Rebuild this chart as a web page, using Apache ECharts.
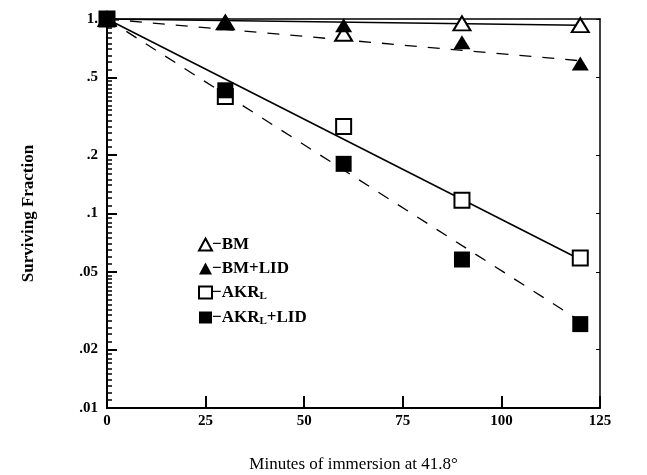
<!DOCTYPE html>
<html>
<head>
<meta charset="utf-8">
<script src="https://cdn.jsdelivr.net/npm/echarts@6.0.0/dist/echarts.min.js"></script>
<style>
  html, body { margin: 0; padding: 0; background: #fff; }
  #chart { width: 647px; height: 475px; }
</style>
</head>
<body>
<div id="chart"></div>
<script>
// minutes of immersion
const minutes = [0, 30, 60, 90, 120];
// surviving fraction
const bm = [1.0, 0.96, 0.84, 0.95, 0.93];
const bmLid = [1.0, 0.95, 0.93, 0.76, 0.59];
const akr = [1.0, 0.40, 0.28, 0.117, 0.059];
const akrLid = [1.0, 0.43, 0.18, 0.058, 0.027];
// fitted lines (start, end)
const fitX = [0, 120];
const bmFit = [1.0, 0.93];
const bmLidFit = [1.0, 0.61];
const akrFit = [1.0, 0.058];
const akrLidFit = [1.0, 0.028];
// tick labels
const xTicks = [0, 25, 50, 75, 100, 125];
const yMajor = [0.01, 0.02, 0.05, 0.1, 0.2, 0.5, 1];
const yLabels = [".01", ".02", ".05", ".1", ".2", ".5", "1."];

// dense minor ticks on the log axis
const yMinor = [];
[0.01, 0.1].forEach((d) => {
  for (let i = 10; i < 20; i++) yMinor.push(d * i / 10);
  for (let i = 20; i < 50; i += 2) yMinor.push(d * i / 10);
  for (let i = 50; i <= 100; i += 5) yMinor.push(d * i / 10);
});

const font = "'Liberation Serif', 'DejaVu Serif', serif";

function pairs(xs, ys) {
  return xs.map((x, i) => [x, ys[i]]);
}

let chartDom = document.getElementById("chart");
let myChart = echarts.init(chartDom);

const openStyle = { color: "#fff", borderColor: "#000", borderWidth: 2, opacity: 1 };
const fillStyle = { color: "#000", opacity: 1 };

let option = {
  backgroundColor: "#fff",
  animation: false,
  grid: { left: 107, right: 47, top: 19, bottom: 67, outerBoundsMode: "none", containLabel: false },
  legend: {
    orient: "vertical",
    left: 193,
    top: 231,
    itemGap: 7,
    itemWidth: 13,
    itemHeight: 12,
    data: [
      { name: "BM", icon: "triangle" },
      { name: "BM+LID", icon: "triangle" },
      { name: "AKR_L", icon: "rect" },
      { name: "AKR_L+LID", icon: "rect" },
    ],
    formatter: (name) => {
      if (name === "AKR_L") return "{t|\u2212AKR}{s|L}";
      if (name === "AKR_L+LID") return "{t|\u2212AKR}{s|L}{t|+LID}";
      return "{t|\u2212" + name + "}";
    },
    textStyle: {
      padding: [0, 0, 0, -5],
      rich: {
        t: { fontFamily: font, fontWeight: "bold", fontSize: 17, color: "#000" },
        s: { fontFamily: font, fontWeight: "bold", fontSize: 11, color: "#000", padding: [8, 0, 0, 0] },
      },
    },
  },
  xAxis: [
    {
      type: "value",
      min: 0,
      max: 125,
      interval: 25,
      name: "Minutes of immersion at 41.8\u00b0",
      nameLocation: "middle",
      nameGap: 48,
      nameTextStyle: { fontFamily: font, fontSize: 17, color: "#000" },
      axisLine: { lineStyle: { color: "#000", width: 2 } },
      axisTick: { show: true, inside: true, length: 12, lineStyle: { color: "#000", width: 2 } },
      axisLabel: { fontFamily: font, fontWeight: "bold", fontSize: 15, color: "#000", margin: 6 },
      splitLine: { show: false },
    },
    {
      type: "value",
      position: "top",
      min: 0,
      max: 125,
      axisLine: { show: true, lineStyle: { color: "#000", width: 1.5 } },
      axisTick: { show: false },
      axisLabel: { show: false },
      splitLine: { show: false },
    },
  ],
  yAxis: [
    {
      type: "log",
      logBase: 10,
      min: 0.01,
      max: 1,
      name: "Surviving Fraction",
      nameLocation: "middle",
      nameGap: 70,
      nameRotate: 90,
      nameTextStyle: { fontFamily: font, fontSize: 17, color: "#000", fontWeight: "bold" },
      axisLine: { show: true, lineStyle: { color: "#000", width: 2 } },
      axisTick: {
        show: true,
        inside: true,
        length: 10,
        customValues: yMajor,
        lineStyle: { color: "#000", width: 2 },
      },
      axisLabel: {
        customValues: yMajor,
        fontFamily: font,
        fontWeight: "bold",
        fontSize: 15,
        color: "#000",
        margin: 9,
        formatter: (v) => {
          let i = yMajor.findIndex((m) => Math.abs(m - v) < 1e-9);
          return i >= 0 ? yLabels[i] : "";
        },
      },
      splitLine: { show: false },
    },
    {
      type: "log",
      logBase: 10,
      min: 0.01,
      max: 1,
      position: "left",
      axisLine: { show: true, lineStyle: { color: "#000", width: 2 } },
      axisTick: {
        show: true,
        inside: true,
        length: 5,
        customValues: yMinor,
        lineStyle: { color: "#000", width: 1.5 },
      },
      axisLabel: { show: false },
      splitLine: { show: false },
    },
    {
      type: "log",
      logBase: 10,
      min: 0.01,
      max: 1,
      position: "right",
      axisLine: { show: true, lineStyle: { color: "#000", width: 1.5 } },
      axisTick: {
        show: true,
        inside: true,
        length: 4,
        customValues: yMajor,
        lineStyle: { color: "#000", width: 1 },
      },
      axisLabel: { show: false },
      splitLine: { show: false },
    },
  ],
  series: [
    {
      name: "bmFit",
      type: "line",
      data: pairs(fitX, bmFit),
      showSymbol: false,
      lineStyle: { color: "#000", width: 1.5 },
      z: 1,
    },
    {
      name: "bmLidFit",
      type: "line",
      data: pairs(fitX, bmLidFit),
      showSymbol: false,
      lineStyle: { color: "#000", width: 1.3, type: [12, 11] },
      z: 1,
    },
    {
      name: "akrFit",
      type: "line",
      data: pairs(fitX, akrFit),
      showSymbol: false,
      lineStyle: { color: "#000", width: 1.5 },
      z: 1,
    },
    {
      name: "akrLidFit",
      type: "line",
      data: pairs(fitX, akrLidFit),
      showSymbol: false,
      lineStyle: { color: "#000", width: 1.3, type: [12, 11] },
      z: 1,
    },
    {
      name: "BM",
      type: "scatter",
      data: pairs(minutes, bm),
      symbol: "triangle",
      symbolSize: [17, 14],
      itemStyle: openStyle,
      z: 3,
    },
    {
      name: "BM+LID",
      type: "scatter",
      data: pairs(minutes, bmLid),
      symbol: "triangle",
      symbolSize: [17, 14],
      itemStyle: fillStyle,
      z: 4,
    },
    {
      name: "AKR_L",
      type: "scatter",
      data: pairs(minutes, akr),
      symbol: "rect",
      symbolSize: 15,
      itemStyle: openStyle,
      z: 3,
    },
    {
      name: "AKR_L+LID",
      type: "scatter",
      data: pairs(minutes, akrLid),
      symbol: "rect",
      symbolSize: 16,
      itemStyle: fillStyle,
      z: 4,
    },
  ],
};
option && myChart.setOption(option);
</script>
</body>
</html>
